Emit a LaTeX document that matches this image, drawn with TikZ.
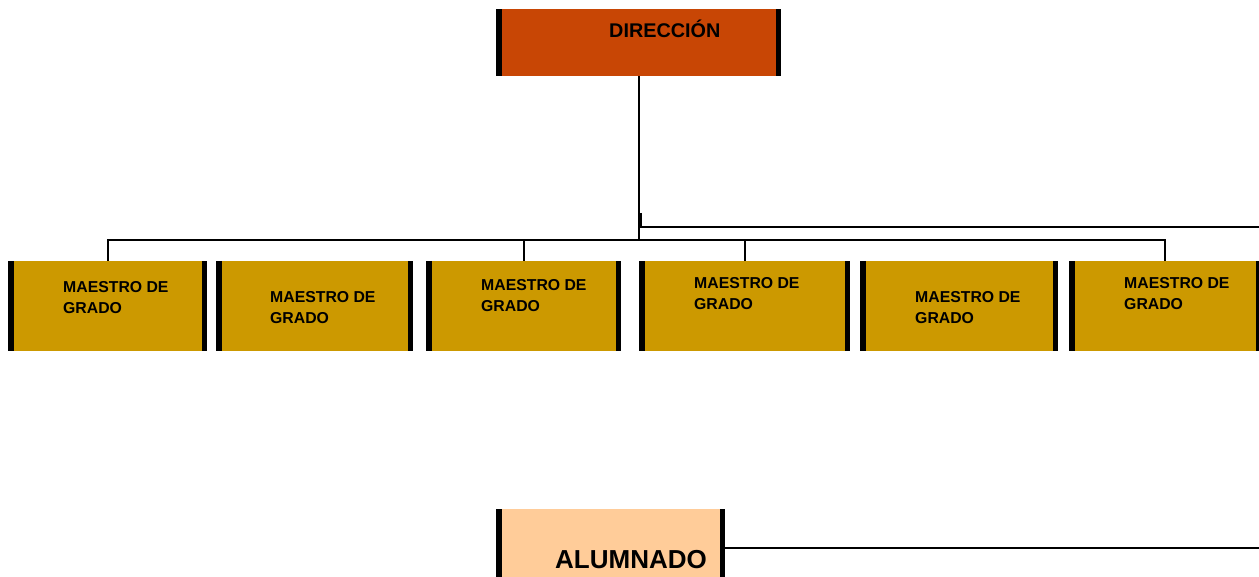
\documentclass[tikz,border=0pt]{standalone}
\usepackage{fontspec}
\setmainfont{Liberation Sans}
\definecolor{dircol}{RGB}{200,70,5}
\definecolor{maecol}{RGB}{204,153,0}
\definecolor{alucol}{RGB}{255,204,153}
\begin{document}
\begin{tikzpicture}[x=1pt,y=-1pt,
  box/.style={fill=#1, inner sep=0pt, outer sep=0pt, anchor=north west,
    path picture={
      \fill[black] (path picture bounding box.north west) rectangle ([xshift=5.5pt]path picture bounding box.south west);
      \fill[black] (path picture bounding box.north east) rectangle ([xshift=-5.5pt]path picture bounding box.south east);}},
  conn/.style={line width=2pt, draw=black},
  lbl/.style={font=\bfseries\fontsize{15.8}{21}\selectfont, align=left, inner sep=0pt, anchor=north west}]
\useasboundingbox (0,0) rectangle (1259,577);
% boxes
\node[box=dircol, minimum width=285pt, minimum height=67pt] (dir) at (496,9) {};
\node[font=\bfseries\fontsize{19.8}{22}\selectfont, inner sep=0pt, anchor=base west] (dirt) at (609,38) {DIRECCIÓN};
\node[box=maecol, minimum width=199pt, minimum height=90pt] (m1) at (8,261) {};
\node[box=maecol, minimum width=197pt, minimum height=90pt] (m2) at (216,261) {};
\node[box=maecol, minimum width=195pt, minimum height=90pt] (m3) at (426,261) {};
\node[box=maecol, minimum width=211pt, minimum height=90pt] (m4) at (639,261) {};
\node[box=maecol, minimum width=198pt, minimum height=90pt] (m5) at (860,261) {};
\node[box=maecol, minimum width=192pt, minimum height=90pt] (m6) at (1069,261) {};
\node[lbl] (t1) at (63,281) {MAESTRO DE\\GRADO};
\node[lbl] (t2) at (270,291) {MAESTRO DE\\GRADO};
\node[lbl] (t3) at (481,279) {MAESTRO DE\\GRADO};
\node[lbl] (t4) at (694,277) {MAESTRO DE\\GRADO};
\node[lbl] (t5) at (915,291) {MAESTRO DE\\GRADO};
\node[lbl] (t6) at (1124,277) {MAESTRO DE\\GRADO};
\node[box=alucol, minimum width=229pt, minimum height=78pt] (alu) at (496,509) {};
\node[font=\bfseries\fontsize{26}{28}\selectfont, inner sep=0pt, anchor=base west] (alut) at (555,568) {ALUMNADO};
% connectors
\coordinate (bus) at (0,240);
\draw[conn] (dir.south) -- (dir.south |- bus);
\draw[conn] (m1.north) -- (m1.north |- bus) -| (m6.north);
\draw[conn] (m3.north) -- (m3.north |- bus);
\draw[conn] (m4.north) -- (m4.north |- bus);
\coordinate (s1) at (641,213);
\coordinate (e1) at (1262,227);
\draw[conn] (s1) |- (e1);
\coordinate (e2) at (1262,548);
\draw[conn] (alu.east) -- (e2);
\end{tikzpicture}
\end{document}
